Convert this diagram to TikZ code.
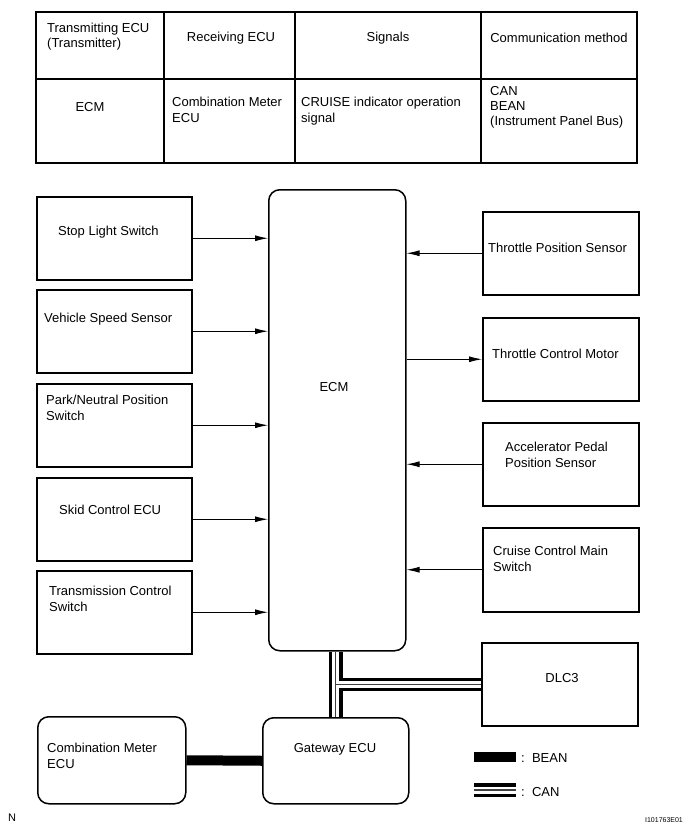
\documentclass[tikz,border=0pt]{standalone}
\usepackage{fontspec}
\setmainfont{Liberation Sans}
\usetikzlibrary{arrows.meta}
\begin{document}
\begin{tikzpicture}[x=1pt,y=-1pt,
  box/.style={draw, line width=1.5pt, anchor=north west, inner sep=0pt, minimum width=#1},
  box/.default=155pt,
  rbox/.style={box=#1, rounded corners=11pt},
  txt/.style={font=\fontsize{13}{15.5}\selectfont, align=left, inner sep=0pt, anchor=base west},
  ctxt/.style={font=\fontsize{13}{15.5}\selectfont, align=center, inner sep=0pt, anchor=base},
  arr/.style={-{Latex[length=13pt,width=6pt]}, line width=0.9pt},
  grid/.style={line width=1.3pt},
  beanline/.style={line width=10pt},
  canblack/.style={line width=13.5pt, black},
  canwhite/.style={line width=7pt, white},
  cancenter/.style={line width=1.2pt, black!75}
]
\useasboundingbox (0,0) rectangle (692,832);

% ---------- table ----------
\draw[grid] (36,12) rectangle (637,163);
\draw[grid] (36,79) -- (637,79);
\draw[grid] (164,12) -- (164,163);
\draw[grid] (295,12) -- (295,163);
\draw[grid] (481,12) -- (481,163);
\node[txt] (h1) at (47,48) {Transmitting ECU\\(Transmitter)};
\node[ctxt] (h2) at (231,42) {Receiving ECU};
\node[ctxt] (h3) at (388,42) {Signals};
\node[ctxt] (h4) at (559,43) {Communication method};
\node[ctxt] (c1) at (90,112) {ECM};
\node[txt] (c2) at (172,122) {Combination Meter\\ECU};
\node[txt] (c3) at (301,122) {CRUISE indicator operation\\signal};
\node[txt] (c4) at (490,126) {CAN\\BEAN\\(Instrument Panel Bus)};

% ---------- ECM ----------
\node[rbox=137pt, minimum height=461pt] (ecm) at (268,189) {};
\node[ctxt] (ecmt) at (334,391) {ECM};

% ---------- left boxes ----------
\node[box, minimum height=83pt] (sls) at (36,196) {};
\node[box, minimum height=83pt] (vss) at (36,289) {};
\node[box, minimum height=83pt] (pnp) at (36,383) {};
\node[box, minimum height=83pt] (skid) at (36,477) {};
\node[box, minimum height=83pt] (tcs) at (36,570) {};
\node[txt] (slst) at (58,235) {Stop Light Switch};
\node[txt] (vsst) at (44,322) {Vehicle Speed Sensor};
\node[txt] (pnpt) at (46,420) {Park/Neutral Position\\Switch};
\node[txt] (skidt) at (59,514) {Skid Control ECU};
\node[txt] (tcst) at (49,611) {Transmission Control\\Switch};

\foreach \b in {sls,vss,pnp,skid,tcs}
  \draw[arr] (\b.east) -- (\b.east -| ecm.west);

% ---------- right boxes ----------
\node[box=156pt, minimum height=83pt] (tps) at (482,211) {};
\node[box=156pt, minimum height=83pt] (tcm) at (482,317) {};
\node[box=156pt, minimum height=83pt] (apps) at (482,422) {};
\node[box=156pt, minimum height=84pt] (ccms) at (482,527) {};
\node[box=156pt, minimum height=83pt] (dlc) at (481,642) {};
\node[txt] (tpst) at (488,252) {Throttle Position Sensor};
\node[txt] (tcmt) at (492,358) {Throttle Control Motor};
\node[txt] (appst) at (505,467) {Accelerator Pedal\\Position Sensor};
\node[txt] (ccmst) at (493,571) {Cruise Control Main\\Switch};
\node[ctxt] (dlct) at (562,682) {DLC3};

\draw[arr] (tps.west) -- (tps.west -| ecm.east);
\draw[arr] (tcm.west -| ecm.east) -- (tcm.west);
\draw[arr] (apps.west) -- (apps.west -| ecm.east);
\draw[arr] (ccms.west) -- (ccms.west -| ecm.east);

% ---------- bottom ----------
\node[rbox=148pt, minimum height=87pt] (cm) at (37,716) {};
\node[rbox=146pt, minimum height=86pt] (gw) at (262,717) {};
\node[txt] (cmt) at (47,768) {Combination Meter\\ECU};
\node[ctxt] (gwt) at (335,752) {Gateway ECU};

% BEAN bus
\draw[beanline] (cm.east) -- (gw.west);

% CAN bus
\coordinate (ctop) at (gw.north |- ecm.south);
\coordinate (cj) at (gw.north |- dlc.west);
\draw[canblack] (ctop) -- (gw.north);
\draw[canblack] (cj) -- (dlc.west);
\draw[canwhite] (ctop) -- (gw.north);
\draw[canwhite] (cj) -- (dlc.west);
\draw[cancenter] (ctop) -- (gw.north);
\draw[cancenter] (cj) -- (dlc.west);

% ---------- legend ----------
\coordinate (lb1) at (474,757);
\coordinate (lb2) at (516,757);
\coordinate (lc1) at (474,790);
\coordinate (lc2) at (516,790);
\draw[beanline] (lb1) -- (lb2);
\draw[canblack] (lc1) -- (lc2);
\draw[canwhite] (lc1) -- (lc2);
\draw[cancenter] (lc1) -- (lc2);
\node[txt] (lbt) at (521,762) {:\ \ BEAN};
\node[txt] (lct) at (521,796) {:\ \ CAN};

\node[font=\fontsize{11}{13}\selectfont, inner sep=0pt] (nn) at (12,818) {N};
\node[font=\fontsize{7}{8}\selectfont, inner sep=0pt] (id) at (664,820) {I101763E01};
\end{tikzpicture}
\end{document}
